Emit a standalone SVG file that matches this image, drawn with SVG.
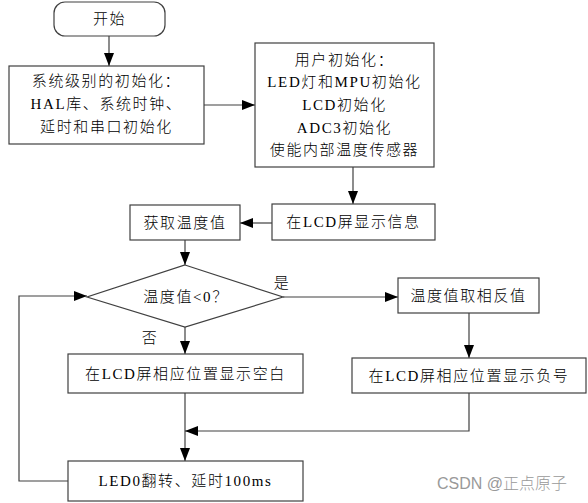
<svg xmlns="http://www.w3.org/2000/svg" width="588" height="503" viewBox="0 0 588 503">
<style>
.box{fill:#fff;stroke:#404040;stroke-width:1.2}
.ln{fill:none;stroke:#404040;stroke-width:1.2}
.t{font-family:"Liberation Serif","Noto Sans CJK SC",serif;font-size:15px;font-weight:300;fill:#000;text-anchor:middle;dominant-baseline:central;letter-spacing:1.6px}
.wm{font-family:"Liberation Sans","Noto Sans CJK SC",sans-serif;font-size:16px;font-weight:300;fill:#999;dominant-baseline:central}
</style>
<defs>
<marker id="ah" markerUnits="userSpaceOnUse" markerWidth="14" markerHeight="11" refX="13" refY="5" orient="auto">
<path d="M0,0 L13,5 L0,10 z" fill="#000"/>
</marker>
</defs>
<rect width="588" height="503" fill="#fff"/>
<g id="connectors">
<path class="ln" d="M109,36 V66" marker-end="url(#ah)"/>
<path class="ln" d="M204,105 H255" marker-end="url(#ah)"/>
<path class="ln" d="M353,167 V204" marker-end="url(#ah)"/>
<path class="ln" d="M272,223 H240" marker-end="url(#ah)"/>
<path class="ln" d="M185,240 V265" marker-end="url(#ah)"/>
<path class="ln" d="M283,297 H398" marker-end="url(#ah)"/>
<path class="ln" d="M469,313 V358" marker-end="url(#ah)"/>
<path class="ln" d="M185,327 V354" marker-end="url(#ah)"/>
<path class="ln" d="M185,393 V461" marker-end="url(#ah)"/>
<path class="ln" d="M469,393 V431 H185" marker-end="url(#ah)"/>
<path class="ln" d="M68,481 H19 V296 H87" marker-end="url(#ah)"/>
<text class="t" x="282" y="283">是</text>
<text class="t" x="150" y="338">否</text>
</g>
<g id="start">
<rect class="box" x="54" y="2" width="111" height="34" rx="11"/>
<text class="t" x="109.5" y="19">开始</text>
</g>
<g id="sysinit">
<rect class="box" x="9" y="66" width="195" height="78"/>
<text class="t" x="106.5" y="81">系统级别的初始化：</text>
<text class="t" x="106.5" y="104">HAL库、系统时钟、</text>
<text class="t" x="106.5" y="127">延时和串口初始化</text>
</g>
<g id="userinit">
<rect class="box" x="255" y="43" width="179" height="124"/>
<text class="t" x="344.5" y="60">用户初始化：</text>
<text class="t" x="344.5" y="82">LED灯和MPU初始化</text>
<text class="t" x="344.5" y="105">LCD初始化</text>
<text class="t" x="344.5" y="128">ADC3初始化</text>
<text class="t" x="344.5" y="150">使能内部温度传感器</text>
</g>
<g id="showinfo">
<rect class="box" x="272" y="204" width="163" height="36"/>
<text class="t" x="353.5" y="222">在LCD屏显示信息</text>
</g>
<g id="gettemp">
<rect class="box" x="130" y="205" width="110" height="35"/>
<text class="t" x="185" y="222.5">获取温度值</text>
</g>
<g id="decision">
<polygon class="box" points="185,265 283,297 185,327 87,297"/>
<text class="t" x="186" y="297">温度值&lt;0？</text>
</g>
<g id="negate">
<rect class="box" x="398" y="278" width="141" height="35"/>
<text class="t" x="468.5" y="295.5">温度值取相反值</text>
</g>
<g id="showneg">
<rect class="box" x="352" y="358" width="234" height="35"/>
<text class="t" x="469" y="375.5">在LCD屏相应位置显示负号</text>
</g>
<g id="showblank">
<rect class="box" x="68" y="354" width="235" height="39"/>
<text class="t" x="185.5" y="373.5">在LCD屏相应位置显示空白</text>
</g>
<g id="led">
<rect class="box" x="68" y="461" width="235" height="40"/>
<text class="t" x="185.5" y="481">LED0翻转、延时100ms</text>
</g>
<text class="wm" x="437" y="483">CSDN @正点原子</text>
</svg>
